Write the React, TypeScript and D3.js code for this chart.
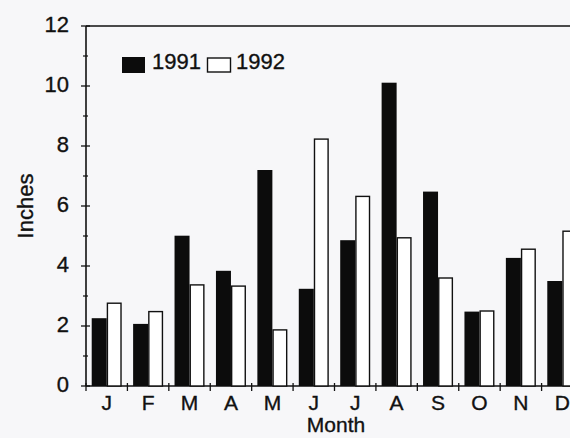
import React from 'react';
import * as d3 from 'd3';

const months = ['J', 'F', 'M', 'A', 'M', 'J', 'J', 'A', 'S', 'O', 'N', 'D'];
const series = ['1991', '1992'];
const values1991 = [2.26, 2.07, 5.01, 3.84, 7.2, 3.24, 4.86, 10.11, 6.48, 2.48, 4.27, 3.5];
const values1992 = [2.76, 2.48, 3.37, 3.33, 1.87, 8.23, 6.32, 4.94, 3.6, 2.5, 4.56, 5.16];
const yTicks = [0, 2, 4, 6, 8, 10, 12];
const minorTicks = [1, 3, 5, 7, 9, 11];

const width = 570;
const height = 438;
const margin = { top: 26, left: 86, bottom: 52 };
const plotRight = 583; // frame runs past the right edge of the picture
const font = "'Liberation Sans', Arial, sans-serif";

export default function App() {
  const x = d3.scaleBand<number>()
    .domain(months.map((_, i) => i))
    .range([margin.left, plotRight]);

  const xInner = d3.scaleBand<string>()
    .domain(series)
    .range([0, x.bandwidth()])
    .paddingOuter(0.38);

  const y = d3.scaleLinear()
    .domain([0, 12])
    .range([height - margin.bottom, margin.top]);

  const rows = months.map((m, i) => ({ i, m, v: [values1991[i], values1992[i]] }));
  const boundaries = d3.range(months.length + 1).map(i => margin.left + i * x.step());
  const ink = '#111';
  const textStyle = { stroke: ink, strokeWidth: 0.35 };

  return (
    <svg width={width} height={height}
      style={{ position: 'absolute', left: 0, top: 0, background: '#f7f7f9', fontFamily: font }}>
      {/* frame */}
      <line x1={margin.left} x2={plotRight} y1={y(12)} y2={y(12)} stroke={ink} strokeWidth={1.6} />
      <line x1={margin.left} x2={margin.left} y1={y(12)} y2={y(0)} stroke={ink} strokeWidth={1.6} />
      <line x1={margin.left} x2={plotRight} y1={y(0)} y2={y(0)} stroke={ink} strokeWidth={1.6} />
      <line x1={plotRight} x2={plotRight} y1={y(12)} y2={y(0)} stroke={ink} strokeWidth={1.6} />

      {/* bars */}
      {rows.map(r => (
        <g key={r.i}>
          {series.map((s, j) => (
            <rect key={s}
              x={(x(r.i) as number) + (xInner(s) as number) + (j === 1 ? 0.7 : 0)}
              y={y(r.v[j])}
              width={xInner.bandwidth() - (j === 1 ? 1.4 : 0)}
              height={y(0) - y(r.v[j])}
              fill={j === 0 ? '#0c0c0c' : '#ffffff'}
              stroke={j === 0 ? 'none' : ink}
              strokeWidth={1.4} />
          ))}
        </g>
      ))}

      {/* y axis ticks */}
      {yTicks.map(t => (
        <g key={t}>
          <line x1={margin.left - 5} x2={margin.left + 4} y1={y(t)} y2={y(t)} stroke={ink} strokeWidth={1.3} />
          <text x={69} y={y(t)} dy="0.28em" textAnchor="end" fontSize={22} fill={ink} style={textStyle}>{t}</text>
        </g>
      ))}
      {minorTicks.map(t => (
        <line key={t} x1={margin.left - 3} x2={margin.left + 2} y1={y(t)} y2={y(t)} stroke={ink} strokeWidth={1.2} />
      ))}

      {/* x axis ticks and labels */}
      {boundaries.map((b, i) => (
        <line key={i} x1={b} x2={b} y1={y(0) - 3} y2={y(0) + 5} stroke={ink} strokeWidth={1.3} />
      ))}
      {rows.map(r => (
        <text key={r.i} x={(x(r.i) as number) + x.bandwidth() / 2} y={410}
          textAnchor="middle" fontSize={21} fill={ink} style={textStyle}>{r.m}</text>
      ))}

      {/* axis titles */}
      <text x={336} y={432} textAnchor="middle" fontSize={21} fill={ink} style={textStyle}>Month</text>
      <text transform={`translate(33,206) rotate(-90)`} textAnchor="middle" fontSize={22} fill={ink} style={textStyle}>Inches</text>

      {/* legend */}
      <rect x={122} y={57} width={23} height={16} fill="#0c0c0c" />
      <text x={152} y={69} fontSize={22} fill={ink} style={textStyle}>{series[0]}</text>
      <rect x={207.5} y={58} width={23} height={14} fill="#fff" stroke={ink} strokeWidth={1.4} />
      <text x={236} y={69} fontSize={22} fill={ink} style={textStyle}>{series[1]}</text>
    </svg>
  );
}
